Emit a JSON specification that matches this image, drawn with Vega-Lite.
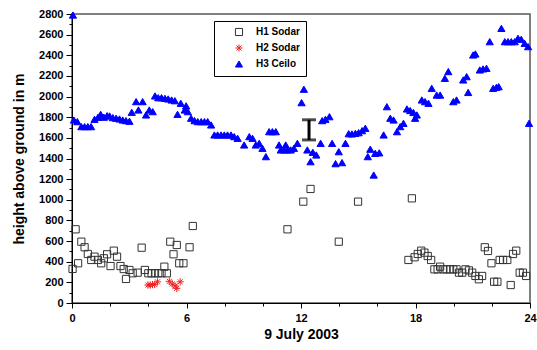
{
  "$schema": "https://vega.github.io/schema/vega-lite/v6.json",
  "width": 458,
  "height": 289,
  "autosize": "none",
  "padding": {"left": 72, "top": 14, "right": 7, "bottom": 47},
  "background": "white",
  "config": {
    "view": {"stroke": "#555555", "strokeWidth": 1.5},
    "font": "Liberation Sans",
    "axis": {
      "labelFont": "Liberation Sans", "labelFontWeight": "bold", "labelFontSize": 11, "labelColor": "black",
      "titleFont": "Liberation Sans", "titleFontWeight": "bold", "titleFontSize": 14, "titleColor": "black",
      "domainColor": "black", "tickColor": "black", "grid": false, "labelOverlap": false
    }
  },
  "resolve": {"axis": {"x": "independent", "y": "independent"}},
  "datasets": {
    "pts": [
      {"series": "H1 Sodar", "hour": 0.03, "height": 330},
      {"series": "H1 Sodar", "hour": 0.19, "height": 714},
      {"series": "H1 Sodar", "hour": 0.32, "height": 385},
      {"series": "H1 Sodar", "hour": 0.49, "height": 594},
      {"series": "H1 Sodar", "hour": 0.66, "height": 540},
      {"series": "H1 Sodar", "hour": 0.83, "height": 475},
      {"series": "H1 Sodar", "hour": 1.01, "height": 417},
      {"series": "H1 Sodar", "hour": 1.18, "height": 449},
      {"series": "H1 Sodar", "hour": 1.36, "height": 417},
      {"series": "H1 Sodar", "hour": 1.53, "height": 385},
      {"series": "H1 Sodar", "hour": 1.67, "height": 433},
      {"series": "H1 Sodar", "hour": 1.84, "height": 472},
      {"series": "H1 Sodar", "hour": 2.02, "height": 358},
      {"series": "H1 Sodar", "hour": 2.19, "height": 507},
      {"series": "H1 Sodar", "hour": 2.36, "height": 449},
      {"series": "H1 Sodar", "hour": 2.54, "height": 358},
      {"series": "H1 Sodar", "hour": 2.71, "height": 329},
      {"series": "H1 Sodar", "hour": 2.83, "height": 233},
      {"series": "H1 Sodar", "hour": 3.01, "height": 320},
      {"series": "H1 Sodar", "hour": 3.18, "height": 288},
      {"series": "H1 Sodar", "hour": 3.44, "height": 294},
      {"series": "H1 Sodar", "hour": 3.65, "height": 536},
      {"series": "H1 Sodar", "hour": 3.82, "height": 320},
      {"series": "H1 Sodar", "hour": 4.0, "height": 288},
      {"series": "H1 Sodar", "hour": 4.17, "height": 288},
      {"series": "H1 Sodar", "hour": 4.35, "height": 288},
      {"series": "H1 Sodar", "hour": 4.52, "height": 288},
      {"series": "H1 Sodar", "hour": 4.69, "height": 288},
      {"series": "H1 Sodar", "hour": 4.84, "height": 352},
      {"series": "H1 Sodar", "hour": 4.97, "height": 288},
      {"series": "H1 Sodar", "hour": 5.15, "height": 594},
      {"series": "H1 Sodar", "hour": 5.32, "height": 472},
      {"series": "H1 Sodar", "hour": 5.49, "height": 562},
      {"series": "H1 Sodar", "hour": 5.62, "height": 385},
      {"series": "H1 Sodar", "hour": 5.84, "height": 385},
      {"series": "H1 Sodar", "hour": 6.16, "height": 540},
      {"series": "H1 Sodar", "hour": 6.33, "height": 746},
      {"series": "H1 Sodar", "hour": 11.29, "height": 714},
      {"series": "H1 Sodar", "hour": 12.12, "height": 982},
      {"series": "H1 Sodar", "hour": 12.5, "height": 1105},
      {"series": "H1 Sodar", "hour": 13.98, "height": 594},
      {"series": "H1 Sodar", "hour": 14.99, "height": 982},
      {"series": "H1 Sodar", "hour": 17.63, "height": 417},
      {"series": "H1 Sodar", "hour": 17.81, "height": 1014},
      {"series": "H1 Sodar", "hour": 17.95, "height": 443},
      {"series": "H1 Sodar", "hour": 18.12, "height": 475},
      {"series": "H1 Sodar", "hour": 18.3, "height": 507},
      {"series": "H1 Sodar", "hour": 18.47, "height": 488},
      {"series": "H1 Sodar", "hour": 18.64, "height": 455},
      {"series": "H1 Sodar", "hour": 18.82, "height": 417},
      {"series": "H1 Sodar", "hour": 18.99, "height": 326},
      {"series": "H1 Sodar", "hour": 19.16, "height": 326},
      {"series": "H1 Sodar", "hour": 19.29, "height": 352},
      {"series": "H1 Sodar", "hour": 19.46, "height": 326},
      {"series": "H1 Sodar", "hour": 19.63, "height": 326},
      {"series": "H1 Sodar", "hour": 19.81, "height": 326},
      {"series": "H1 Sodar", "hour": 19.98, "height": 326},
      {"series": "H1 Sodar", "hour": 20.15, "height": 326},
      {"series": "H1 Sodar", "hour": 20.28, "height": 294},
      {"series": "H1 Sodar", "hour": 20.45, "height": 294},
      {"series": "H1 Sodar", "hour": 20.62, "height": 326},
      {"series": "H1 Sodar", "hour": 20.8, "height": 316},
      {"series": "H1 Sodar", "hour": 20.97, "height": 294},
      {"series": "H1 Sodar", "hour": 21.14, "height": 262},
      {"series": "H1 Sodar", "hour": 21.32, "height": 230},
      {"series": "H1 Sodar", "hour": 21.49, "height": 262},
      {"series": "H1 Sodar", "hour": 21.63, "height": 540},
      {"series": "H1 Sodar", "hour": 21.8, "height": 504},
      {"series": "H1 Sodar", "hour": 21.98, "height": 385},
      {"series": "H1 Sodar", "hour": 22.12, "height": 206},
      {"series": "H1 Sodar", "hour": 22.29, "height": 206},
      {"series": "H1 Sodar", "hour": 22.41, "height": 417},
      {"series": "H1 Sodar", "hour": 22.59, "height": 417},
      {"series": "H1 Sodar", "hour": 22.81, "height": 417},
      {"series": "H1 Sodar", "hour": 22.99, "height": 174},
      {"series": "H1 Sodar", "hour": 23.11, "height": 475},
      {"series": "H1 Sodar", "hour": 23.28, "height": 507},
      {"series": "H1 Sodar", "hour": 23.46, "height": 294},
      {"series": "H1 Sodar", "hour": 23.63, "height": 294},
      {"series": "H1 Sodar", "hour": 23.8, "height": 262},
      {"series": "H2 Sodar", "hour": 3.98, "height": 174},
      {"series": "H2 Sodar", "hour": 4.1, "height": 174},
      {"series": "H2 Sodar", "hour": 4.22, "height": 178},
      {"series": "H2 Sodar", "hour": 4.33, "height": 180},
      {"series": "H2 Sodar", "hour": 4.48, "height": 205},
      {"series": "H2 Sodar", "hour": 5.1, "height": 210},
      {"series": "H2 Sodar", "hour": 5.25, "height": 185},
      {"series": "H2 Sodar", "hour": 5.4, "height": 165},
      {"series": "H2 Sodar", "hour": 5.49, "height": 142},
      {"series": "H2 Sodar", "hour": 5.67, "height": 205},
      {"series": "H3 Ceilo", "hour": 0.05, "height": 2790},
      {"series": "H3 Ceilo", "hour": 0.1, "height": 1773},
      {"series": "H3 Ceilo", "hour": 0.28, "height": 1757},
      {"series": "H3 Ceilo", "hour": 0.49, "height": 1709},
      {"series": "H3 Ceilo", "hour": 0.66, "height": 1709},
      {"series": "H3 Ceilo", "hour": 0.83, "height": 1709},
      {"series": "H3 Ceilo", "hour": 1.0, "height": 1709},
      {"series": "H3 Ceilo", "hour": 1.18, "height": 1780},
      {"series": "H3 Ceilo", "hour": 1.36, "height": 1799},
      {"series": "H3 Ceilo", "hour": 1.5, "height": 1828},
      {"series": "H3 Ceilo", "hour": 1.67, "height": 1800},
      {"series": "H3 Ceilo", "hour": 1.84, "height": 1815},
      {"series": "H3 Ceilo", "hour": 1.97, "height": 1812},
      {"series": "H3 Ceilo", "hour": 2.14, "height": 1796},
      {"series": "H3 Ceilo", "hour": 2.31, "height": 1790},
      {"series": "H3 Ceilo", "hour": 2.49, "height": 1783},
      {"series": "H3 Ceilo", "hour": 2.66, "height": 1773},
      {"series": "H3 Ceilo", "hour": 2.83, "height": 1767},
      {"series": "H3 Ceilo", "hour": 3.01, "height": 1761},
      {"series": "H3 Ceilo", "hour": 3.13, "height": 1848},
      {"series": "H3 Ceilo", "hour": 3.36, "height": 1951},
      {"series": "H3 Ceilo", "hour": 3.48, "height": 1870},
      {"series": "H3 Ceilo", "hour": 3.7, "height": 1951},
      {"series": "H3 Ceilo", "hour": 3.88, "height": 1822},
      {"series": "H3 Ceilo", "hour": 4.05, "height": 1870},
      {"series": "H3 Ceilo", "hour": 4.23, "height": 1854},
      {"series": "H3 Ceilo", "hour": 4.35, "height": 2006},
      {"series": "H3 Ceilo", "hour": 4.52, "height": 1989},
      {"series": "H3 Ceilo", "hour": 4.69, "height": 1989},
      {"series": "H3 Ceilo", "hour": 4.87, "height": 1983},
      {"series": "H3 Ceilo", "hour": 5.04, "height": 1977},
      {"series": "H3 Ceilo", "hour": 5.22, "height": 1967},
      {"series": "H3 Ceilo", "hour": 5.39, "height": 1960},
      {"series": "H3 Ceilo", "hour": 5.53, "height": 1828},
      {"series": "H3 Ceilo", "hour": 5.7, "height": 1935},
      {"series": "H3 Ceilo", "hour": 5.91, "height": 1870},
      {"series": "H3 Ceilo", "hour": 5.98, "height": 1910},
      {"series": "H3 Ceilo", "hour": 6.07, "height": 1854},
      {"series": "H3 Ceilo", "hour": 6.24, "height": 1790},
      {"series": "H3 Ceilo", "hour": 6.42, "height": 1767},
      {"series": "H3 Ceilo", "hour": 6.59, "height": 1757},
      {"series": "H3 Ceilo", "hour": 6.77, "height": 1757},
      {"series": "H3 Ceilo", "hour": 6.94, "height": 1757},
      {"series": "H3 Ceilo", "hour": 7.11, "height": 1757},
      {"series": "H3 Ceilo", "hour": 7.29, "height": 1725},
      {"series": "H3 Ceilo", "hour": 7.46, "height": 1628},
      {"series": "H3 Ceilo", "hour": 7.63, "height": 1628},
      {"series": "H3 Ceilo", "hour": 7.81, "height": 1628},
      {"series": "H3 Ceilo", "hour": 7.98, "height": 1628},
      {"series": "H3 Ceilo", "hour": 8.15, "height": 1628},
      {"series": "H3 Ceilo", "hour": 8.33, "height": 1628},
      {"series": "H3 Ceilo", "hour": 8.5, "height": 1612},
      {"series": "H3 Ceilo", "hour": 8.68, "height": 1596},
      {"series": "H3 Ceilo", "hour": 9.02, "height": 1531},
      {"series": "H3 Ceilo", "hour": 9.29, "height": 1612},
      {"series": "H3 Ceilo", "hour": 9.46, "height": 1596},
      {"series": "H3 Ceilo", "hour": 9.63, "height": 1531},
      {"series": "H3 Ceilo", "hour": 9.81, "height": 1547},
      {"series": "H3 Ceilo", "hour": 9.98, "height": 1499},
      {"series": "H3 Ceilo", "hour": 10.16, "height": 1418},
      {"series": "H3 Ceilo", "hour": 10.33, "height": 1660},
      {"series": "H3 Ceilo", "hour": 10.5, "height": 1660},
      {"series": "H3 Ceilo", "hour": 10.68, "height": 1660},
      {"series": "H3 Ceilo", "hour": 10.85, "height": 1531},
      {"series": "H3 Ceilo", "hour": 10.94, "height": 1483},
      {"series": "H3 Ceilo", "hour": 11.11, "height": 1483},
      {"series": "H3 Ceilo", "hour": 11.2, "height": 1531},
      {"series": "H3 Ceilo", "hour": 11.28, "height": 1483},
      {"series": "H3 Ceilo", "hour": 11.46, "height": 1483},
      {"series": "H3 Ceilo", "hour": 11.63, "height": 1499},
      {"series": "H3 Ceilo", "hour": 11.81, "height": 1547},
      {"series": "H3 Ceilo", "hour": 12.03, "height": 1941},
      {"series": "H3 Ceilo", "hour": 12.15, "height": 2071},
      {"series": "H3 Ceilo", "hour": 12.33, "height": 1483},
      {"series": "H3 Ceilo", "hour": 12.5, "height": 1369},
      {"series": "H3 Ceilo", "hour": 12.62, "height": 1460},
      {"series": "H3 Ceilo", "hour": 12.8, "height": 1434},
      {"series": "H3 Ceilo", "hour": 13.03, "height": 1547},
      {"series": "H3 Ceilo", "hour": 13.11, "height": 1767},
      {"series": "H3 Ceilo", "hour": 13.28, "height": 1780},
      {"series": "H3 Ceilo", "hour": 13.49, "height": 1805},
      {"series": "H3 Ceilo", "hour": 13.63, "height": 1547},
      {"series": "H3 Ceilo", "hour": 13.81, "height": 1350},
      {"series": "H3 Ceilo", "hour": 13.98, "height": 1466},
      {"series": "H3 Ceilo", "hour": 14.15, "height": 1360},
      {"series": "H3 Ceilo", "hour": 14.33, "height": 1547},
      {"series": "H3 Ceilo", "hour": 14.5, "height": 1640},
      {"series": "H3 Ceilo", "hour": 14.67, "height": 1638},
      {"series": "H3 Ceilo", "hour": 14.85, "height": 1644},
      {"series": "H3 Ceilo", "hour": 15.02, "height": 1650},
      {"series": "H3 Ceilo", "hour": 15.2, "height": 1670},
      {"series": "H3 Ceilo", "hour": 15.37, "height": 1693},
      {"series": "H3 Ceilo", "hour": 15.5, "height": 1418},
      {"series": "H3 Ceilo", "hour": 15.63, "height": 1490},
      {"series": "H3 Ceilo", "hour": 15.81, "height": 1240},
      {"series": "H3 Ceilo", "hour": 15.89, "height": 1450},
      {"series": "H3 Ceilo", "hour": 16.1, "height": 1455},
      {"series": "H3 Ceilo", "hour": 16.33, "height": 1628},
      {"series": "H3 Ceilo", "hour": 16.5, "height": 1902},
      {"series": "H3 Ceilo", "hour": 16.68, "height": 1790},
      {"series": "H3 Ceilo", "hour": 16.85, "height": 1773},
      {"series": "H3 Ceilo", "hour": 17.03, "height": 1660},
      {"series": "H3 Ceilo", "hour": 17.2, "height": 1709},
      {"series": "H3 Ceilo", "hour": 17.37, "height": 1741},
      {"series": "H3 Ceilo", "hour": 17.55, "height": 1880},
      {"series": "H3 Ceilo", "hour": 17.72, "height": 1865},
      {"series": "H3 Ceilo", "hour": 17.89, "height": 1846},
      {"series": "H3 Ceilo", "hour": 17.98, "height": 1790},
      {"series": "H3 Ceilo", "hour": 18.07, "height": 1822},
      {"series": "H3 Ceilo", "hour": 18.33, "height": 1967},
      {"series": "H3 Ceilo", "hour": 18.5, "height": 1951},
      {"series": "H3 Ceilo", "hour": 18.68, "height": 1935},
      {"series": "H3 Ceilo", "hour": 18.85, "height": 2080},
      {"series": "H3 Ceilo", "hour": 19.11, "height": 2015},
      {"series": "H3 Ceilo", "hour": 19.29, "height": 2015},
      {"series": "H3 Ceilo", "hour": 19.54, "height": 2177},
      {"series": "H3 Ceilo", "hour": 19.72, "height": 2242},
      {"series": "H3 Ceilo", "hour": 19.98, "height": 1951},
      {"series": "H3 Ceilo", "hour": 20.15, "height": 1967},
      {"series": "H3 Ceilo", "hour": 20.5, "height": 2161},
      {"series": "H3 Ceilo", "hour": 20.68, "height": 2193},
      {"series": "H3 Ceilo", "hour": 20.76, "height": 2040},
      {"series": "H3 Ceilo", "hour": 21.02, "height": 2403},
      {"series": "H3 Ceilo", "hour": 21.14, "height": 2413},
      {"series": "H3 Ceilo", "hour": 21.37, "height": 2258},
      {"series": "H3 Ceilo", "hour": 21.54, "height": 2268},
      {"series": "H3 Ceilo", "hour": 21.72, "height": 2274},
      {"series": "H3 Ceilo", "hour": 21.89, "height": 2532},
      {"series": "H3 Ceilo", "hour": 22.07, "height": 2080},
      {"series": "H3 Ceilo", "hour": 22.24, "height": 2090},
      {"series": "H3 Ceilo", "hour": 22.36, "height": 2096},
      {"series": "H3 Ceilo", "hour": 22.5, "height": 2661},
      {"series": "H3 Ceilo", "hour": 22.68, "height": 2532},
      {"series": "H3 Ceilo", "hour": 22.85, "height": 2532},
      {"series": "H3 Ceilo", "hour": 23.02, "height": 2532},
      {"series": "H3 Ceilo", "hour": 23.2, "height": 2532},
      {"series": "H3 Ceilo", "hour": 23.37, "height": 2565},
      {"series": "H3 Ceilo", "hour": 23.54, "height": 2555},
      {"series": "H3 Ceilo", "hour": 23.72, "height": 2516},
      {"series": "H3 Ceilo", "hour": 23.9, "height": 2484},
      {"series": "H3 Ceilo", "hour": 23.95, "height": 1741}
    ],
    "err": [
      {"hour": 12.42, "lo": 1580, "hi": 1775}
    ]
  },
  "layer": [
    {
      "data": {"name": "pts"},
      "mark": {"type": "point", "strokeWidth": 1, "opacity": 1, "size": 52},
      "encoding": {
        "x": {
          "field": "hour", "type": "quantitative", "title": "9 July 2003",
          "scale": {"domain": [0, 24], "nice": false, "zero": false},
          "axis": {
            "orient": "bottom",
            "values": [0, 6, 12, 18, 24],
            "format": "d",
            "labelOverlap": false,
            "labelFlush": false,
            "tickSize": 5,
            "labelPadding": 4, "titlePadding": 4
          }
        },
        "y": {
          "field": "height", "type": "quantitative", "title": "height above ground in m",
          "scale": {"domain": [0, 2800], "nice": false},
          "axis": {
            "orient": "left",
            "values": [0, 200, 400, 600, 800, 1000, 1200, 1400, 1600, 1800, 2000, 2200, 2400, 2600, 2800],
            "format": "d",
            "labelOverlap": false,
            "labelFlush": false,
            "tickSize": 6,
            "labelPadding": 3, "titlePadding": 12
          }
        },
        "shape": {
          "field": "series", "type": "nominal",
          "scale": {"domain": ["H1 Sodar", "H2 Sodar", "H3 Ceilo"], "range": ["square", "M-1,0L1,0M0,-1L0,1M-0.7,-0.7L0.7,0.7M-0.7,0.7L0.7,-0.7", "triangle-up"]},
          "legend": {"orient": "none", "legendX": 142, "legendY": 7, "title": null, "padding": 6, "symbolOffset": 14, "strokeColor": "black", "fillColor": "white", "labelFont": "Liberation Sans", "labelFontSize": 10, "labelFontWeight": "bold", "labelColor": "black", "labelOffset": 12, "rowPadding": 4, "symbolSize": 50, "symbolStrokeWidth": 1}
        },
        "fill": {
          "field": "series", "type": "nominal",
          "scale": {"domain": ["H1 Sodar", "H2 Sodar", "H3 Ceilo"], "range": ["transparent", "#ee2222", "#0000ff"]},
          "legend": {"orient": "none", "legendX": 142, "legendY": 7, "title": null, "padding": 6, "symbolOffset": 14, "strokeColor": "black", "fillColor": "white", "labelFont": "Liberation Sans", "labelFontSize": 10, "labelFontWeight": "bold", "labelColor": "black", "labelOffset": 12, "rowPadding": 4, "symbolSize": 50, "symbolStrokeWidth": 1}
        },
        "stroke": {
          "field": "series", "type": "nominal",
          "scale": {"domain": ["H1 Sodar", "H2 Sodar", "H3 Ceilo"], "range": ["#333333", "#ee2222", "#0000ff"]},
          "legend": {"orient": "none", "legendX": 142, "legendY": 7, "title": null, "padding": 6, "symbolOffset": 14, "strokeColor": "black", "fillColor": "white", "labelFont": "Liberation Sans", "labelFontSize": 10, "labelFontWeight": "bold", "labelColor": "black", "labelOffset": 12, "rowPadding": 4, "symbolSize": 50, "symbolStrokeWidth": 1}
        }
      }
    },
    {
      "data": {"name": "err"},
      "mark": {"type": "errorbar", "color": "black", "thickness": 3, "ticks": {"size": 14, "thickness": 3, "color": "black"}},
      "encoding": {
        "x": {
          "field": "hour", "type": "quantitative",
          "axis": {"orient": "bottom", "title": null, "labels": false, "values": [2, 4, 8, 10, 14, 16, 20, 22], "tickSize": 3}
        },
        "y": {
          "field": "lo", "type": "quantitative",
          "axis": {"orient": "left", "title": null, "labels": false, "values": [100, 300, 500, 700, 900, 1100, 1300, 1500, 1700, 1900, 2100, 2300, 2500, 2700], "tickSize": 3}
        },
        "y2": {"field": "hi"}
      }
    }
  ]
}
